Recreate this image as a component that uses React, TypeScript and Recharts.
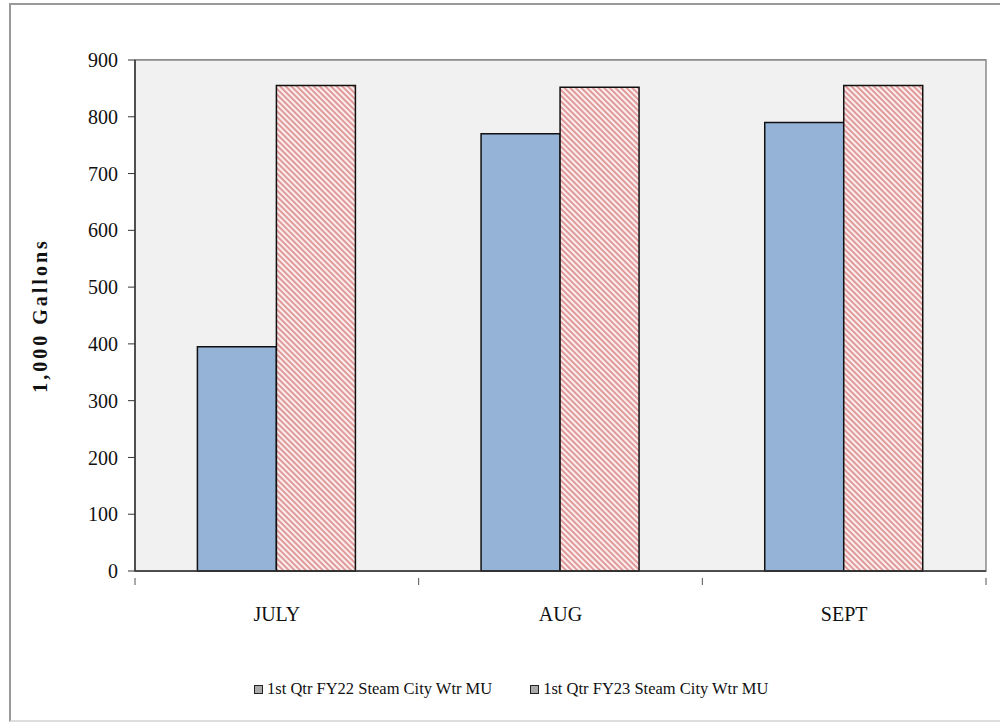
import React from 'react';
import { BarChart, Bar, XAxis, YAxis, CartesianGrid } from 'recharts';

const categories = ['JULY', 'AUG', 'SEPT'];
const fy22Values = [395, 770, 790];
const fy23Values = [855, 852, 855];
const yTicks = [0, 100, 200, 300, 400, 500, 600, 700, 800, 900];
const seriesNames = ['1st Qtr FY22 Steam City Wtr MU', '1st Qtr FY23 Steam City Wtr MU'];
const boundaryTicks = [0, 0.5, 1, 1.5, 2, 2.5, 3];

const data = categories.map((c, i) => ({ name: c, fy22: fy22Values[i], fy23: fy23Values[i] }));

const FONT = '"Liberation Serif", "Times New Roman", serif';

const BottomTick = (props: any) => {
  const { x, y, payload } = props;
  const v = payload.value;
  if (Number.isInteger(v)) {
    return <line x1={x} y1={y - 1} x2={x} y2={y + 6} stroke="#555" strokeWidth={1} />;
  }
  const label = categories[Math.floor(v)];
  return (
    <text x={x} y={y + 42} textAnchor="middle" fontFamily={FONT} fontSize={20} fill="#111">
      {label}
    </text>
  );
};

export default function App() {
  return (
    <div style={{ position: 'absolute', left: 0, top: 0, width: 1000, height: 723, background: '#fff' }}>
      <div style={{ position: 'absolute', left: 9, top: 3, width: 990, height: 715, borderLeft: '2px solid #999', borderTop: '2px solid #999', borderBottom: '2px solid #ddd' }} />
      <div style={{ position: 'absolute', left: 0, top: 0 }}>
        <BarChart
          width={1000}
          height={723}
          data={data}
          margin={{ top: 60, right: 14, bottom: 0, left: 0 }}
          barCategoryGap="22%"
          barGap={0}
        >
          <defs>
            <pattern id="hatch" patternUnits="userSpaceOnUse" width="4" height="4" patternTransform="rotate(-45)">
              <rect width="4" height="4" fill="#fbeeee" />
              <rect width="2" height="4" fill="#e09a9a" />
            </pattern>
          </defs>
          <rect x={135} y={60} width={851} height={511} fill="#f1f1f1" stroke="#8a8a8a" strokeWidth={1.5} />
          <CartesianGrid vertical={false} stroke="#222" strokeWidth={1} fill="none" />
          <XAxis xAxisId="cat" dataKey="name" hide height={0} />
          <XAxis
            xAxisId="num"
            type="number"
            dataKey={() => 0}
            domain={[0, 3]}
            ticks={boundaryTicks}
            interval={0}
            tickLine={false}
            tick={<BottomTick />}
            axisLine={{ stroke: '#333', strokeWidth: 1.5 }}
            height={152}
            allowDataOverflow
          />
          <YAxis
            domain={[0, 900]}
            ticks={yTicks}
            interval={0}
            width={135}
            tickSize={7}
            tickMargin={10}
            tickLine={{ stroke: '#333' }}
            axisLine={{ stroke: '#333', strokeWidth: 1.5 }}
            tick={{ fontFamily: FONT, fontSize: 20, fill: '#111' }}
            label={{
              value: '1,000 Gallons',
              angle: -90,
              position: 'insideLeft',
              offset: 40,
              style: { fontFamily: FONT, fontSize: 20, fontWeight: 'bold', fill: '#111', textAnchor: 'middle', letterSpacing: 3 },
            }}
          />
          <Bar xAxisId="cat" dataKey="fy22" name={seriesNames[0]} fill="#95b3d7" stroke="#111" strokeWidth={1.5} isAnimationActive={false} />
          <Bar xAxisId="cat" dataKey="fy23" name={seriesNames[1]} fill="url(#hatch)" stroke="#111" strokeWidth={1.5} isAnimationActive={false} />
        </BarChart>
      </div>
      <div style={{ position: 'absolute', top: 679, left: 254, display: 'flex', alignItems: 'center', fontFamily: FONT, fontSize: 16.5, color: '#111', whiteSpace: 'nowrap' }}>
        {seriesNames.map((n, i) => (
          <div key={n} style={{ display: 'flex', alignItems: 'center', marginRight: i === 0 ? 38 : 0 }}>
            <span style={{ display: 'inline-block', width: 7, height: 7, border: '1.5px solid #222', background: '#aaa', marginRight: 4 }} />
            <span>{n}</span>
          </div>
        ))}
      </div>
    </div>
  );
}
